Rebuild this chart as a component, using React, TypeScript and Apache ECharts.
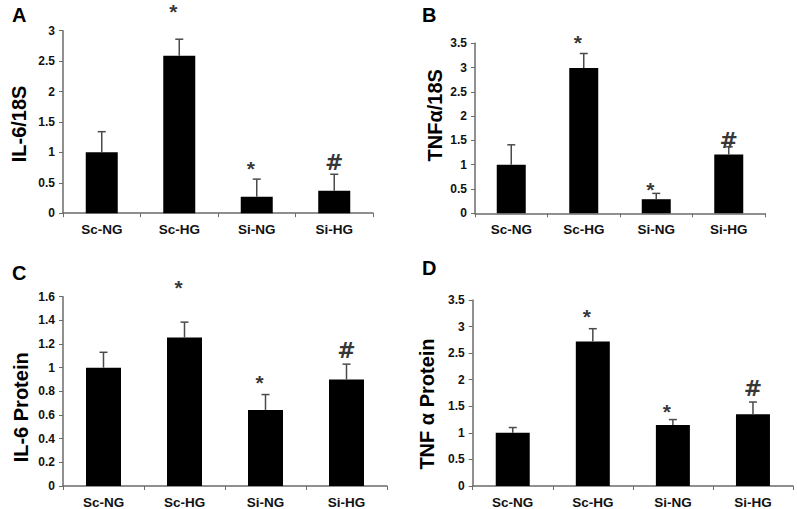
import React, { useEffect, useRef } from "react";
import * as echarts from "echarts";

const categories = ["Sc-NG", "Sc-HG", "Si-NG", "Si-HG"];

const il6mRNA = [1.0, 2.59, 0.27, 0.37];
const il6mRNAErr = [0.34, 0.27, 0.29, 0.27];
const tnfmRNA = [1.0, 2.99, 0.29, 1.21];
const tnfmRNAErr = [0.41, 0.3, 0.12, 0.16];
const il6Protein = [1.0, 1.255, 0.643, 0.9];
const il6ProteinErr = [0.13, 0.13, 0.13, 0.13];
const tnfProtein = [1.0, 2.72, 1.15, 1.35];
const tnfProteinErr = [0.1, 0.24, 0.1, 0.23];

const panelTitles = ["A", "B", "C", "D"];
const yTitles = ["IL-6/18S", "TNFα/18S", "IL-6 Protein", "TNF α Protein"];
const yMax = [3, 3.5, 1.6, 3.5];
const yStep = [0.5, 0.5, 0.2, 0.5];

// significance marks: category index, height (data units), symbol
const markCatsA = [1, 2, 3];
const markYsA = [3.39, 0.82, 0.845];
const markCatsB = [1, 2, 3];
const markYsB = [3.62, 0.6, 1.51];
const markCatsC = [1, 2, 3];
const markYsC = [1.72, 0.92, 1.15];
const markCatsD = [1, 2, 3];
const markYsD = [3.28, 1.49, 1.85];
const markSymbols = ["*", "*", "#"];

const FONT = "'Liberation Sans', Arial, Helvetica, sans-serif";

const grids = [
  { left: 63, top: 30.7, width: 310, height: 182.5 },
  { left: 475, top: 43.3, width: 290, height: 170 },
  { left: 63, top: 296.7, width: 324, height: 190.6 },
  { left: 472.7, top: 300, width: 320.3, height: 187.3 },
];
const barWidths = [32, 29, 35, 34];
const nameGaps = [34, 30, 32, 36];
const namePads = [
  [0, 4, 0, 0],
  [0, 0, 0, 26],
  [0, 32, 0, 0],
  [0, 22, 0, 0],
];
const letterPos = [
  [12, 5],
  [422, 5],
  [12, 263],
  [422, 258],
];

export default function App() {
  const ref = useRef<HTMLDivElement>(null);
  useEffect(() => {
    if (!ref.current) return;
    const chart = echarts.init(ref.current, null, { renderer: "svg" });
    const means = [il6mRNA, tnfmRNA, il6Protein, tnfProtein];
    const errs = [il6mRNAErr, tnfmRNAErr, il6ProteinErr, tnfProteinErr];
    const markCats = [markCatsA, markCatsB, markCatsC, markCatsD];
    const markYs = [markYsA, markYsB, markYsC, markYsD];

    const axisColor = "#6b6b6b";
    const series: any[] = [];
    means.forEach((m, i) => {
      series.push({
        type: "bar",
        xAxisIndex: i,
        yAxisIndex: i,
        data: m,
        barWidth: barWidths[i],
        itemStyle: { color: "#000" },
        silent: true,
      });
      series.push({
        type: "custom",
        xAxisIndex: i,
        yAxisIndex: i,
        clip: false,
        z: 3,
        data: m.map((v, k) => [k, v, v + errs[i][k]]),
        renderItem: (params: any, api: any) => {
          const base = api.coord([api.value(0), api.value(1)]);
          const top = api.coord([api.value(0), api.value(2)]);
          const hw = 4;
          const st = { stroke: "#4a4a4a", lineWidth: 1.5 };
          return {
            type: "group",
            children: [
              { type: "line", shape: { x1: base[0], y1: base[1], x2: top[0], y2: top[1] }, style: st },
              { type: "line", shape: { x1: top[0] - hw, y1: top[1], x2: top[0] + hw, y2: top[1] }, style: st },
            ],
          };
        },
      });
      series.push({
        type: "scatter",
        xAxisIndex: i,
        yAxisIndex: i,
        clip: false,
        silent: true,
        symbolSize: 0.1,
        itemStyle: { color: "transparent" },
        data: markCats[i].map((c, k) => {
          const s = markSymbols[k];
          return {
            value: [c, markYs[i][k]],
            label: {
              show: true,
              position: "inside",
              formatter: s,
              color: "#000",
              fontFamily: s === "*" ? FONT : "'DejaVu Sans', " + FONT,
              fontWeight: "bold",
              fontSize: s === "*" ? 21 : 22,
              offset: s === "*" ? [-6, 5] : [0, 1],
            },
          };
        }),
      });
    });

    chart.setOption({
      animation: false,
      backgroundColor: "#fff",
      title: panelTitles.map((t, i) => ({
        text: t,
        left: letterPos[i][0],
        top: letterPos[i][1],
        padding: 0,
        textStyle: { fontFamily: FONT, fontWeight: "bold", fontSize: 20, color: "#000" },
      })),
      grid: grids.map((g) => ({ ...g, containLabel: false })),
      xAxis: grids.map((_, i) => ({
        type: "category",
        gridIndex: i,
        data: categories,
        axisLine: { lineStyle: { color: axisColor, width: 1.5 } },
        axisTick: { show: true, length: 4, lineStyle: { color: axisColor } },
        axisLabel: {
          fontFamily: FONT,
          fontWeight: "bold",
          fontSize: 13.5,
          color: "#111",
          margin: 9,
        },
      })),
      yAxis: grids.map((_, i) => ({
        type: "value",
        gridIndex: i,
        min: 0,
        max: yMax[i],
        interval: yStep[i],
        splitLine: { show: false },
        axisLine: { show: true, lineStyle: { color: axisColor, width: 1.5 } },
        axisTick: { show: true, length: 4, lineStyle: { color: axisColor } },
        axisLabel: {
          fontFamily: FONT,
          fontWeight: "bold",
          fontSize: 12,
          color: "#111",
          margin: 8,
        },
        name: yTitles[i],
        nameLocation: "middle",
        nameRotate: 90,
        nameGap: nameGaps[i],
        nameTextStyle: {
          fontFamily: FONT,
          fontWeight: "bold",
          fontSize: 20,
          color: "#000",
          padding: namePads[i],
        },
      })),
      series,
    });
    return () => chart.dispose();
  }, []);
  return (
    <div
      ref={ref}
      style={{ position: "fixed", left: 0, top: 0, width: 797, height: 509, background: "#fff" }}
    />
  );
}
